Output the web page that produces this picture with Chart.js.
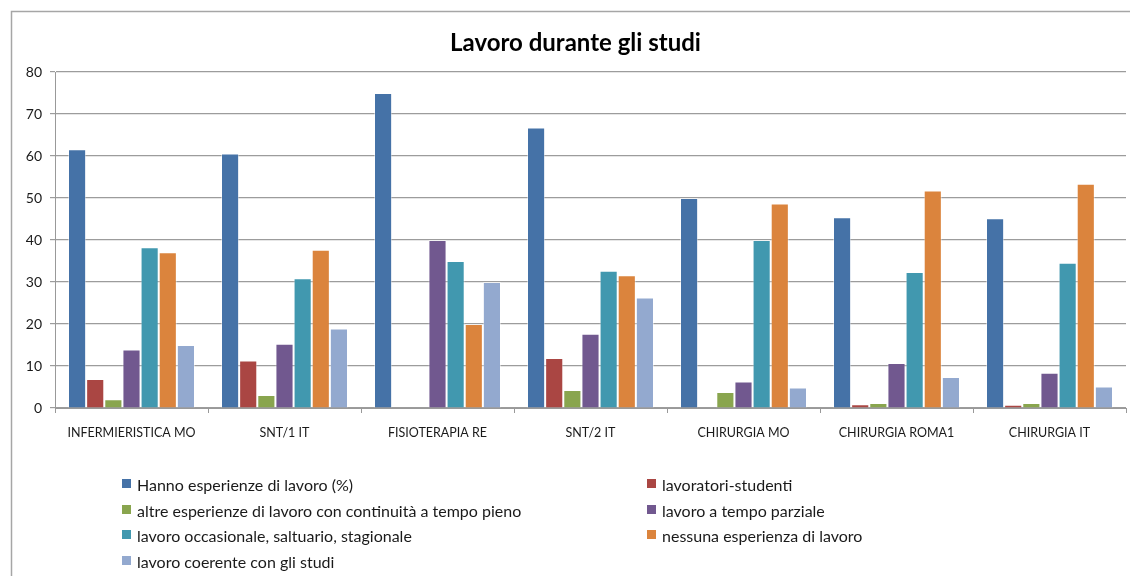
<!DOCTYPE html>
<html>
<head>
<meta charset="utf-8">
<script src="https://cdn.jsdelivr.net/npm/chart.js"></script>
<style>
  html, body { margin: 0; padding: 0; background: #fff; }
  #wrap { position: relative; width: 1130px; height: 576px; overflow: hidden; }
  #c { position: absolute; left: 0; top: 0; }
  .lg { position: absolute; font-family: Lato, "Open Sans", sans-serif; font-size: 16px; color: #1a1a1a; white-space: nowrap; line-height: 20px; height: 20px; }
  .lg i { position: absolute; left: 0; top: 4px; width: 9px; height: 9px; }
  .lg span { position: absolute; left: 15px; top: 0; }
</style>
</head>
<body>
<div id="wrap">
  <canvas id="c" width="1130" height="576"></canvas>
  <div id="legend"></div>
</div>
<script>
const title = 'Lavoro durante gli studi';
const categories = ['INFERMIERISTICA MO', 'SNT/1 IT', 'FISIOTERAPIA RE', 'SNT/2 IT', 'CHIRURGIA MO', 'CHIRURGIA ROMA1', 'CHIRURGIA IT'];
const seriesNames = [
  'Hanno esperienze di lavoro (%)',
  'lavoratori-studenti',
  'altre esperienze di lavoro con continuità a tempo pieno',
  'lavoro a tempo parziale',
  'lavoro occasionale, saltuario, stagionale',
  'nessuna esperienza di lavoro',
  'lavoro coerente con gli studi'
];
const hanno       = [61.6, 60.6, 75.0, 66.8, 50.0, 45.4, 45.2];
const lavStudenti = [6.9, 11.3, 0, 11.9, 0, 0.9, 0.8];
const altre       = [2.1, 3.1, 0, 4.3, 3.8, 1.2, 1.2];
const parziale    = [13.9, 15.3, 40.0, 17.7, 6.3, 10.7, 8.4];
const occasionale = [38.3, 30.9, 35.0, 32.7, 40.0, 32.4, 34.6];
const nessuna     = [37.1, 37.7, 20.0, 31.6, 48.7, 51.8, 53.4];
const coerente    = [15.0, 18.9, 30.0, 26.3, 4.9, 7.4, 5.1];
const yTicks = [0, 10, 20, 30, 40, 50, 60, 70, 80];

const seriesValues = [hanno, lavStudenti, altre, parziale, occasionale, nessuna, coerente];
const colors = ['#4572A7', '#AA4643', '#89A54E', '#71588F', '#4198AF', '#DB843D', '#93A9CF'];

const datasets = seriesNames.map((name, i) => ({
  label: name,
  data: seriesValues[i],
  backgroundColor: colors[i],
  borderColor: 'rgba(255,255,255,0.45)',
  borderWidth: 1,
  categoryPercentage: 0.83,
  barPercentage: 1.0
}));

const framePlugin = {
  id: 'frame',
  beforeDraw(chart) {
    const ctx = chart.ctx;
    ctx.save();
    ctx.strokeStyle = '#a6a6a6';
    ctx.lineWidth = 1.5;
    ctx.beginPath();
    ctx.moveTo(11.5, 600);
    ctx.lineTo(11.5, 11.5);
    ctx.lineTo(1140, 11.5);
    ctx.stroke();
    ctx.restore();
  }
};

new Chart(document.getElementById('c'), {
  type: 'bar',
  data: { labels: categories, datasets },
  plugins: [framePlugin],
  options: {
    responsive: false,
    animation: false,
    layout: { padding: { left: 25, right: 4, top: 0, bottom: 128 } },
    plugins: {
      legend: { display: false },
      tooltip: { enabled: false },
      title: {
        display: true,
        text: title,
        color: '#000',
        font: { family: 'Lato', size: 24, weight: 'bold', lineHeight: 1.2 },
        padding: { top: 29, bottom: 14.2 }
      }
    },
    scales: {
      x: {
        grid: { display: true, drawOnChartArea: false, drawTicks: true, tickLength: 5, color: '#999', offset: true },
        border: { display: true, color: '#999', width: 1 },
        ticks: { color: '#1a1a1a', font: { family: 'Lato', size: 12.5 }, padding: 12, maxRotation: 0, autoSkip: false },
        afterFit(scale) { scale.height = 40; }
      },
      y: {
        min: 0, max: 80,
        afterBuildTicks(scale) { scale.ticks = yTicks.map(v => ({ value: v })); },
        grid: { color: '#9c9c9c', lineWidth: 1.2, drawTicks: true, tickLength: 5 },
        border: { display: true, color: '#999', width: 1 },
        ticks: { color: '#1a1a1a', font: { family: 'Lato', size: 14 }, padding: 8 },
        afterFit(scale) { scale.width = 30; }
      }
    }
  }
});

// HTML legend built from series
const legendPos = [
  [122, 475], [647, 475],
  [122, 500.5], [647, 500.5],
  [122, 526], [647, 526],
  [122, 551.5]
];
const lg = document.getElementById('legend');
seriesNames.forEach((name, i) => {
  const d = document.createElement('div');
  d.className = 'lg';
  d.style.left = legendPos[i][0] + 'px';
  d.style.top = legendPos[i][1] + 'px';
  const sq = document.createElement('i');
  sq.style.background = colors[i];
  const t = document.createElement('span');
  t.textContent = name;
  d.appendChild(sq);
  d.appendChild(t);
  lg.appendChild(d);
});
</script>
</body>
</html>
